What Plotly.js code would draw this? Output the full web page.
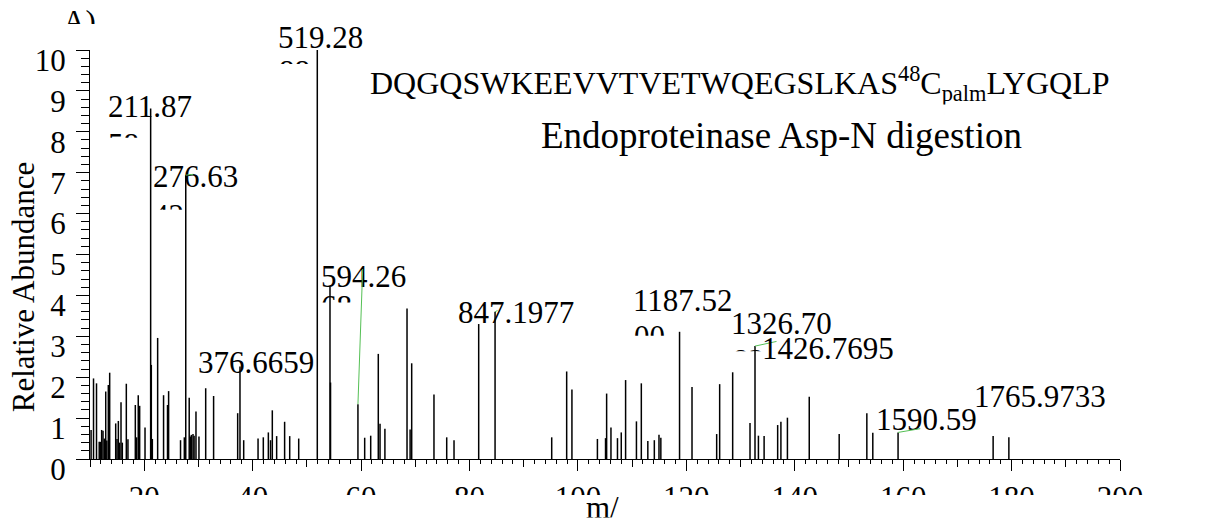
<!DOCTYPE html>
<html>
<head>
<meta charset="utf-8">
<script src="https://cdn.plot.ly/plotly-3.0.1.min.js"></script>
<style>
  html, body { margin: 0; padding: 0; background: #ffffff; }
  #chart { width: 1229px; height: 523px; }
</style>
</head>
<body>
<div id="chart"></div>
<script>
// Axis positions are m/z in tens; abundance in the axis units (0-10).
const peakX = [
  10.2, 10.65, 11.2, 11.7, 11.95, 12.15, 12.4, 12.65, 12.9, 13.1,
  13.38, 13.63, 14.74, 14.98, 15.23, 15.45, 15.72, 15.96, 16.7, 17.0,
  18.36, 18.6, 18.9, 19.16, 20.15, 21.31, 21.5, 22.48, 23.57, 24.3,
  24.5, 26.7, 27.4, 28.3, 28.5, 28.7, 29.0, 29.2, 29.55, 30.1,
  31.34, 32.8, 37.24, 38.35, 41.0, 41.97, 42.9, 43.3, 43.63, 44.43,
  45.9, 46.84, 48.5, 54.27, 54.37, 60.67, 61.78, 63.18, 63.5, 64.4,
  68.48, 69.05, 69.34, 73.45, 75.8, 77.15, 81.7, 95.17, 97.93, 98.9,
  103.6, 105.1, 105.3, 106.1, 107.3, 108.0, 108.8, 110.8, 111.7, 112.9,
  114.1, 114.96, 115.3, 121.05, 125.6, 126.15, 128.55, 131.75, 133.3, 134.35,
  136.85, 137.45, 138.65, 148.2, 153.3, 154.4, 179.5
];
const peakY = [
  0.71, 1.97, 1.85, 0.42, 0.42, 0.71, 0.69, 0.50, 1.65, 0.45,
  1.81, 2.11, 0.87, 0.49, 0.93, 0.40, 1.39, 0.40, 1.84, 0.48,
  1.32, 0.53, 1.56, 1.30, 0.77, 2.30, 0.49, 2.96, 1.56, 1.32,
  1.66, 0.46, 0.53, 1.50, 0.55, 0.59, 0.61, 0.57, 1.16, 0.55,
  1.73, 1.54, 1.12, 0.46, 0.50, 0.53, 0.65, 0.46, 1.19, 0.56,
  0.91, 0.56, 0.50, 4.21, 1.87, 0.52, 0.57, 2.57, 0.86, 0.74,
  3.68, 0.72, 2.34, 1.58, 0.53, 0.46, 3.30, 0.53, 2.14, 1.70,
  0.49, 0.51, 1.60, 0.77, 0.51, 0.65, 1.93, 0.92, 1.85, 0.44,
  0.46, 0.59, 0.52, 1.76, 0.61, 1.83, 2.12, 0.88, 0.57, 0.56,
  0.83, 0.91, 1.01, 0.61, 1.12, 0.64, 0.53
];

// Annotated peaks: m/z text as printed, its abundance, and the wrapped digits
const labelText = ['211.87', '276.63', '376.6659', '519.28', '594.26', '847.1977',
                   '1187.52', '1326.70', '1426.7695', '1590.59', '1765.9733'];
const labelAbundance = [8.57, 6.94, 2.26, 10.0, 1.34, 3.60, 3.11, 2.76, 1.52, 0.65, 0.56];
const labelTail = ['58', '42', '', '88', '68', '', '00', '83', '', '', ''];

const xTickStep = 20;
const yTickStep = 1;

// Placement of each peak label (pixel offsets from the peak top)
const labelStyle = [
  {dx: -0.6, dy: 1.8,  tail: {dx: -44.6, dy: -16.5, h: 10.7}},
  {dx: 9.3,  dy: -1.8, tail: {dx: -35.0, dy: -20.4, h: 11.7}, lead: [9, -1]},
  {dx: 16,   dy: 3.6},
  {dx: 3.1,  dy: 13,   tail: {dx: -40.6, dy: -2.3, h: 10}},
  {dx: 5.6,  dy: 127.2, tail: {dx: -38.9, dy: 116.9, h: 13.4}, lead: [4.8, -137.2]},
  {dx: 21,   dy: -1.2, lead: [4, -2]},
  {dx: 3,    dy: 31.3, tail: {dx: -47.5, dy: 14.5, h: 16.7}},
  {dx: 26.7, dy: 22.6, tail: {dx: -24.3, dy: 5.3, h: 8.2}, lead: [23, -5]},
  {dx: 18.8, dy: 48.8},
  {dx: 28,   dy: 13.4, lead: [23.7, -4]},
  {dx: 47,   dy: 40}
];

const SERIF = 'Liberation Serif, Times New Roman, serif';
const LABEL_SIZE = 31;
const LEADER = '#55c055';

// Stick spectrum: each peak is a vertical segment from the baseline
const labelX = labelText.map(t => parseFloat(t) / 10);
const allX = peakX.concat(labelX);
const allY = peakY.concat(labelAbundance);
const segX = [], segY = [];
allX.forEach((x, i) => { segX.push(x, x, null); segY.push(0, allY[i], null); });

const sticks = {
  type: 'scatter', mode: 'lines', x: segX, y: segY,
  line: {color: '#000000', width: 1.5},
  hoverinfo: 'skip', showlegend: false
};
// carrier for the intermediate tick marks every 10 units
const midTicks = {type: 'scatter', x: [], y: [], xaxis: 'x2', yaxis: 'y', showlegend: false, hoverinfo: 'skip'};

const annotations = [];
labelText.forEach((t, i) => {
  const s = labelStyle[i];
  const x = labelX[i], y = labelAbundance[i];
  annotations.push({
    x: x, y: y, xref: 'x', yref: 'y', text: t, showarrow: false,
    xanchor: 'center', yanchor: 'middle', xshift: s.dx, yshift: s.dy,
    font: {family: SERIF, size: LABEL_SIZE, color: '#000000'}
  });
  if (labelTail[i] && s.tail) {
    annotations.push({
      x: x, y: y, xref: 'x', yref: 'y', text: labelTail[i], showarrow: false,
      xanchor: 'left', yanchor: 'top', xshift: s.tail.dx, yshift: s.tail.dy,
      height: s.tail.h, valign: 'top', align: 'left',
      font: {family: SERIF, size: LABEL_SIZE, color: '#000000'}
    });
  }
  if (s.lead) {
    annotations.push({
      x: x, y: y, xref: 'x', yref: 'y', text: ' ', showarrow: true,
      ax: s.lead[0], ay: s.lead[1], arrowhead: 0, arrowwidth: 1,
      arrowcolor: LEADER, standoff: 0, startstandoff: 0,
      font: {size: 1}
    });
  }
});

// panel letter, peptide sequence, enzyme, axis titles
annotations.push(
  {xref: 'paper', yref: 'paper', x: -0.0285, y: 1.1176, xanchor: 'left', yanchor: 'top',
   text: 'A)', showarrow: false, height: 20, valign: 'top',
   font: {family: SERIF, size: LABEL_SIZE, color: '#000000'}},
  {xref: 'paper', yref: 'paper', x: 0.6301, y: 0.9782, xanchor: 'center', yanchor: 'top',
   text: 'DQGQSWKEEVVTVETWQEGSLKAS<sup>48</sup>C<sub>palm</sub>LYGQLP', showarrow: false,
   height: 43.6, valign: 'top',
   font: {family: SERIF, size: 32, color: '#000000'}},
  {xref: 'paper', yref: 'paper', x: 0.6709, y: 0.791, xanchor: 'center', yanchor: 'middle',
   text: 'Endoproteinase Asp-N digestion', showarrow: false,
   font: {family: SERIF, size: 37, color: '#000000'}},
  {xref: 'paper', yref: 'paper', x: -0.0648, y: 0.4205, xanchor: 'center', yanchor: 'middle',
   text: 'Relative Abundance', textangle: -90, showarrow: false,
   font: {family: SERIF, size: 31, color: '#000000'}},
  {xref: 'paper', yref: 'paper', x: 0.4976, y: -0.0719, xanchor: 'center', yanchor: 'top',
   text: 'm/', showarrow: false, height: 27.6, valign: 'top',
   font: {family: SERIF, size: 31, color: '#000000'}}
);

const layout = {
  width: 1229, height: 523, autosize: false,
  margin: {l: 90, r: 109, t: 50, b: 64, pad: 0},
  paper_bgcolor: '#ffffff', plot_bgcolor: '#ffffff',
  font: {family: SERIF, size: 31, color: '#000000'},
  showlegend: false,
  xaxis: {
    range: [10, 200], tick0: 0, dtick: xTickStep,
    ticks: 'outside', ticklen: 11, tickwidth: 1, tickcolor: '#000000',
    showline: true, linecolor: '#000000', linewidth: 1,
    showgrid: false, zeroline: false,
    tickfont: {family: SERIF, size: 31, color: '#000000'},
    minor: {dtick: 2, tick0: 0, ticks: 'outside', ticklen: 4, tickwidth: 1, tickcolor: '#000000', showgrid: false}
  },
  xaxis2: {
    overlaying: 'x', anchor: 'y', side: 'bottom',
    range: [10, 200], tick0: 0, dtick: 10,
    ticks: 'outside', ticklen: 7, tickwidth: 1, tickcolor: '#000000',
    showticklabels: false, showline: false, showgrid: false, zeroline: false
  },
  yaxis: {
    range: [0, 10], tick0: 0, dtick: yTickStep,
    ticks: 'outside', ticklen: 13, tickwidth: 1, tickcolor: '#000000',
    showline: true, linecolor: '#000000', linewidth: 1,
    showgrid: false, zeroline: false,
    ticklabelshift: 10, ticklabelstandoff: 4,
    tickfont: {family: SERIF, size: 31, color: '#000000'},
    minor: {dtick: 0.2, tick0: 0, ticks: 'outside', ticklen: 8, tickwidth: 1, tickcolor: '#000000', showgrid: false}
  },
  // the tick-label band is cut along its lower edge
  shapes: [{
    type: 'rect', xref: 'paper', yref: 'paper', layer: 'above',
    x0: -0.2, x1: 1.2, y0: -0.088, y1: -0.2,
    fillcolor: '#ffffff', line: {width: 0}
  }],
  annotations: annotations
};

Plotly.newPlot('chart', [sticks, midTicks], layout, {displayModeBar: false, staticPlot: true});
</script>
</body>
</html>
